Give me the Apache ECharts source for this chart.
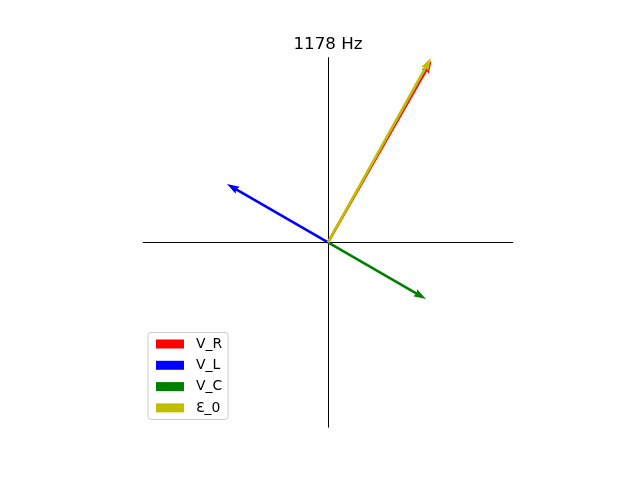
<!DOCTYPE html>
<html>
<head>
<meta charset="utf-8">
<script src="https://cdn.jsdelivr.net/npm/echarts@6/dist/echarts.min.js"></script>
<style>html,body{margin:0;padding:0;background:#fff;}#c{width:640px;height:480px;}</style>
</head>
<body>
<div id="c"></div>
<script>
const titleText = '1178 Hz';
const names = ['V_R', 'V_L', 'V_C', 'Ɛ_0'];
const vecX = [0.56, -0.547, 0.530, 0.557];
const vecY = [0.982, 0.316, -0.306, 0.998];
const colors = ['#ff0000', '#0000ff', '#008000', '#bfbf00'];
const axisMin = -1, axisMax = 1;

function renderArrow(params, api) {
  const p0 = api.coord([0, 0]);
  const p1 = api.coord([api.value(0), api.value(1)]);
  const dx = p1[0] - p0[0], dy = p1[1] - p0[1];
  const len = Math.hypot(dx, dy);
  const ux = dx / len, uy = dy / len;
  const nx = -uy, ny = ux;
  const w = 2.6, headW = 8.2, headLen = 12.5, headAx = 11.2;
  const P = (base, along, side) => [base[0] + ux * along + nx * side, base[1] + uy * along + ny * side];
  const pts = [
    P(p0, 0, w / 2),
    P(p1, -headAx, w / 2),
    P(p1, -headLen, headW / 2),
    P(p1, 0, 0),
    P(p1, -headLen, -headW / 2),
    P(p1, -headAx, -w / 2),
    P(p0, 0, -w / 2)
  ];
  return {
    type: 'polygon',
    shape: { points: pts },
    style: { fill: api.visual('color'), stroke: null }
  };
}

const series = names.map((n, i) => ({
  name: n,
  type: 'custom',
  coordinateSystem: 'cartesian2d',
  renderItem: renderArrow,
  itemStyle: { color: colors[i] },
  data: [[vecX[i], vecY[i]]],
  silent: true,
  animation: false,
  z: 2 + i
}));

const axisCommon = {
  type: 'value',
  min: axisMin, max: axisMax,
  axisLine: { show: true, onZero: true, lineStyle: { color: '#000', width: 1 } },
  axisTick: { show: false },
  axisLabel: { show: false },
  splitLine: { show: false }
};

const chart = echarts.init(document.getElementById('c'), null, { renderer: 'canvas' });
chart.setOption({
  animation: false,
  backgroundColor: '#fff',
  graphic: [{
    type: 'text',
    x: 328, y: 36,
    style: {
      text: titleText,
      fill: '#000',
      font: 'normal 16.7px "DejaVu Sans"',
      align: 'center',
      verticalAlign: 'top'
    }
  }],
  grid: { left: 143.2, top: 57.6, width: 369.6, height: 369.6, containLabel: false },
  xAxis: axisCommon,
  yAxis: axisCommon,
  legend: {
    orient: 'vertical',
    left: 148, top: 332.5,
    data: names.map((n, i) => ({ name: n, icon: 'rect', itemStyle: { color: colors[i] } })),
    itemWidth: 28, itemHeight: 9,
    itemGap: 7.3,
    backgroundColor: 'rgba(255,255,255,0.8)',
    borderColor: '#cccccc', borderWidth: 1, borderRadius: 3,
    padding: [4.5, 6, 4.5, 8],
    selectedMode: false,
    textStyle: { fontFamily: 'DejaVu Sans', fontSize: 13.9, color: '#000', lineHeight: 14, padding: [0, 0, 0, 7] }
  },
  series: series
});
</script>
</body>
</html>
